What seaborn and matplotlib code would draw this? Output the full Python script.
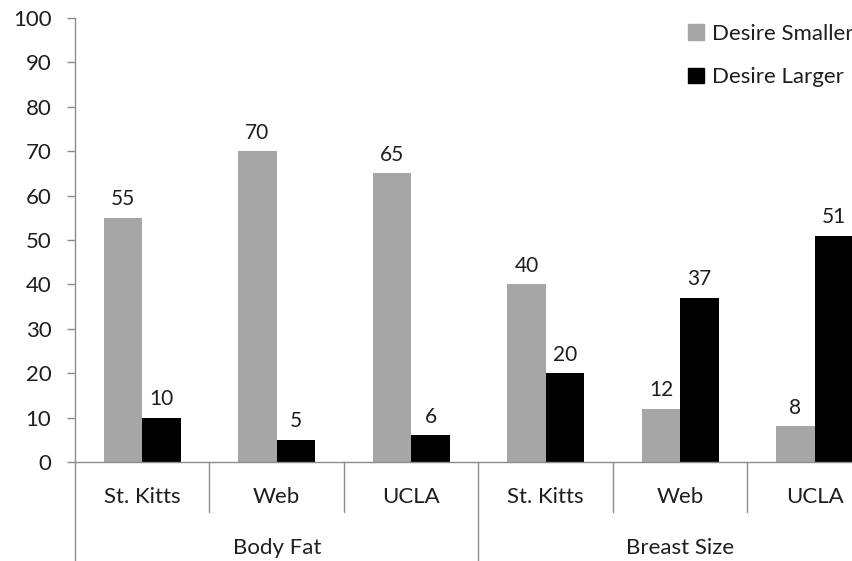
import matplotlib
matplotlib.use("Agg")
import matplotlib.pyplot as plt
import matplotlib.transforms as mtransforms
import seaborn as sns
import pandas as pd

groups = ["Body Fat", "Breast Size"]
samples = ["St. Kitts", "Web", "UCLA"]
desire_smaller = [55, 70, 65, 40, 12, 8]
desire_larger = [10, 5, 6, 20, 37, 51]
series_names = ["Desire Smaller", "Desire Larger"]
series_colors = ["#A6A6A6", "#000000"]

keys = [f"{g}|{s}" for g in groups for s in samples]
df = pd.DataFrame({
    "key": keys * 2,
    "value": desire_smaller + desire_larger,
    "series": [series_names[0]] * 6 + [series_names[1]] * 6,
})

sns.set_theme(style="white")
plt.rcParams["font.family"] = ["Lato", "DejaVu Sans"]

W, H = 853, 561
fig = plt.figure(figsize=(W / 100, H / 100), dpi=100)
ax = fig.add_axes([75 / W, 1 - 462 / H, 807 / W, 444 / H])

sns.barplot(data=df, x="key", y="value", hue="series", order=keys,
            hue_order=series_names, palette=series_colors, width=0.574,
            gap=0, saturation=1, edgecolor="none", linewidth=0,
            legend=False, ax=ax)

ax.set_xlim(-0.5, len(keys) - 0.5)
ax.set_ylim(0, 100)
ax.set_yticks(range(0, 101, 10))
ax.set_xlabel("")
ax.set_ylabel("")
ax.set_xticks([])

text_color = "#1E1E1E"
axis_color = "#8C8C8C"
fs = 16
for side in ["top", "right"]:
    ax.spines[side].set_visible(False)
ax.spines["left"].set_color(axis_color)
ax.spines["bottom"].set_color(axis_color)
ax.spines["left"].set_linewidth(1.0)
ax.spines["bottom"].set_linewidth(1.0)
ax.tick_params(axis="y", direction="out", length=6, width=1.0,
               color=axis_color, labelsize=fs, pad=11, labelcolor=text_color)
ax.tick_params(axis="y", left=True)

# value labels
for cont in ax.containers:
    ax.bar_label(cont, fmt="%d", padding=6, fontsize=fs - 1, color=text_color)

# two-level category axis
trans = mtransforms.blended_transform_factory(ax.transData, ax.transAxes)
one_px = 1 / 444
for i in range(len(keys) + 1):
    x = i - 0.5
    is_group_edge = (i % len(samples) == 0)
    depth = 100 if is_group_edge else 50
    ax.plot([x, x], [0, -depth * one_px], transform=trans, color=axis_color,
            lw=1.0, clip_on=False)

for i, k in enumerate(keys):
    ax.text(i, -35 * one_px, k.split("|")[1], transform=trans,
            ha="center", va="center", fontsize=fs, color=text_color)
for gi, g in enumerate(groups):
    center = gi * len(samples) + (len(samples) - 1) / 2
    ax.text(center, -86 * one_px, g, transform=trans,
            ha="center", va="center", fontsize=fs, color=text_color)

# legend
handles = [plt.Rectangle((0, 0), 1, 1, color=c) for c in series_colors]
fig.legend(handles, series_names, loc="upper left",
           bbox_to_anchor=(668 / W, 1 - 4 / H), frameon=False,
           fontsize=fs, handlelength=0.7, handleheight=0.7,
           handletextpad=0.4, labelspacing=1.05, labelcolor=text_color)

fig.savefig("out.png", dpi=100)
